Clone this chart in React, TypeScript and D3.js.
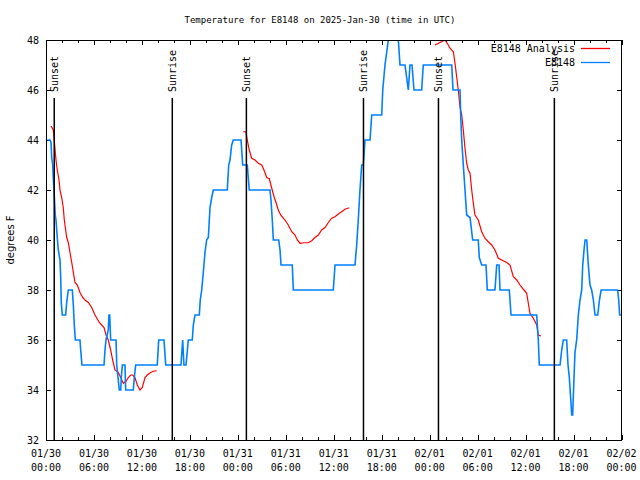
import React from "react";
import * as d3 from "d3";

// Hours after 2025-01-30 00:00 UTC
const obsHours = [0.16,0.5,0.63,0.71,0.84,0.91,1.0,1.16,1.25,1.41,1.54,1.75,1.84,1.91,2.04,2.46,2.59,2.79,3.29,3.42,3.54,3.67,4.25,4.34,4.5,7.26,7.38,7.51,7.79,7.88,7.97,8.09,8.76,8.85,9.01,9.17,9.35,9.42,9.55,9.88,9.97,10.92,11.05,11.22,13.92,14.1,14.76,14.98,16.89,17.1,17.26,17.52,17.8,18.3,18.43,18.64,19.18,19.3,19.48,19.68,19.89,20.1,20.31,20.52,20.73,20.93,22.68,22.86,23.02,23.23,23.43,24.4,24.61,25.18,25.43,28.02,28.15,28.31,28.44,29.11,29.28,29.4,30.81,30.94,35.94,36.16,38.66,38.87,39.07,39.28,39.5,39.7,39.91,40.54,40.75,42.0,42.13,42.41,42.83,44.08,44.29,44.91,45.12,45.33,45.54,45.79,46.04,47.0,47.2,50.76,50.92,51.8,51.88,52.01,52.21,52.42,52.63,53.05,53.38,54.08,54.21,54.51,55.05,55.21,56.17,56.39,56.68,56.8,57.96,58.18,61.39,61.59,61.72,64.31,64.52,64.72,65.14,65.31,65.47,65.68,65.77,65.89,66.06,66.18,66.39,66.6,66.81,67.02,67.15,67.31,67.44,67.65,67.85,68.06,68.27,68.48,68.69,69.03,69.24,69.45,71.52,71.65,71.77,71.94];
const obsTemps = [44,44,43.9,43.3,43,42.5,42,41,40.8,40.1,39.6,39.2,38.5,37.5,37,37,37.5,38,38,37.4,36.6,36,36,35.6,35,35,35.6,36,36.4,37,37,36,36,35,34.5,34,34,34.5,35,35,34,34,34.5,35,35,36,36,35,35,36,35,35,36,36,36.6,37,37,37.6,38,38.7,39.5,40,40.1,41.3,41.7,42,42,43,43.2,43.8,44,44,43,43,42,42,41.6,40.8,40,40,39.6,39,39,38,38,39,39,39.8,40.8,42,43,43,44,44,45,45,46,47,48,48,47,47,46.5,46,47,47,46,46,47,47,46,46,45,44,43,42,41,40.9,40,40,39.3,39,39,38,38,39,39,38,38,37,37,36,35,35,35.6,36,36,35,34.5,33.5,33,33,34.5,35.5,36,37,37.6,38,39,39.6,40,40,39,38.2,38,37.6,37,37,37.6,38,38,37.6,37,37];

const anaHours1 = [0.63,0.91,1.06,1.25,1.41,1.63,1.75,1.96,2.16,2.29,2.46,2.59,2.79,3.0,3.22,3.42,3.63,3.92,4.25,4.59,4.88,5.29,5.72,6.13,6.67,6.97,7.26,7.51,7.79,8.09,8.34,8.63,9.05,9.35,9.67,10.01,10.3,10.6,10.85,11.13,11.42,11.76,12.05,12.39,12.67,13.1,13.42,13.85];
const anaTemps1 = [44.56,44.4,43.9,43.2,42.8,42.4,42,41.7,41.3,40.8,40.4,40.1,39.9,39.5,39.1,38.7,38.3,38.2,37.9,37.7,37.6,37.5,37.3,37,36.7,36.6,36.5,36.2,36,35.6,35.2,34.8,34.7,34.5,34.27,34.35,34.5,34.6,34.6,34.5,34.2,34,34.1,34.5,34.6,34.7,34.75,34.77];
const anaHours2 = [24.68,25.02,25.18,25.43,25.73,26.15,26.56,26.99,27.27,27.61,27.94,28.24,28.53,28.78,29.06,29.36,29.9,30.31,30.74,31.15,31.44,31.78,32.28,32.82,33.24,33.65,34.07,34.49,34.91,35.32,35.74,36.16,36.57,36.99,37.41,37.82,37.95];
const anaTemps2 = [44.33,44.33,44,43.6,43.27,43.2,43.07,43.0,42.8,42.5,42.45,42.07,41.73,41.5,41.2,41,40.8,40.6,40.33,40.2,40,39.87,39.89,39.89,39.97,40.1,40.2,40.4,40.5,40.7,40.87,40.93,41.04,41.13,41.23,41.28,41.28];
const anaHours3 = [48.67,49.29,49.92,50.33,50.54,50.96,51.17,51.39,51.58,51.8,52.01,52.21,52.42,52.63,52.83,53.05,53.26,53.46,53.67,54.08,54.51,54.92,55.34,55.76,56.17,56.59,57.01,57.64,58.05,58.47,58.89,59.3,59.72,60.14,60.34,60.55,60.97,61.39,61.59,61.93];
const anaTemps3 = [47.8,47.9,48,47.8,47.67,47.53,47.07,46.5,46,45.3,45.0,44.4,43.67,43.07,42.8,42.67,42,41.47,41,40.8,40.33,40.07,39.93,39.8,39.6,39.27,39.2,39.1,39,38.53,38.4,38.2,38.03,37.87,37.47,37.07,36.87,36.6,36.2,36.16];

const sunHours = [1.03, 15.8, 25.07, 39.72, 49.1, 63.6];
const sunLabels = ["Sunset", "Sunrise", "Sunset", "Sunrise", "Sunset", "Sunrise"];
const yTicks = [32, 34, 36, 38, 40, 42, 44, 46, 48];
const titleText = "Temperature for E8148 on 2025-Jan-30 (time in UTC)";
const yLabel = "degrees F";
const seriesNames = ["E8148 Analysis", "E8148"];
const seriesColors = ["#ff0000", "#0080ff"];

const START = Date.UTC(2025, 0, 30);
const toDate = (h: number) => new Date(START + h * 3600e3);

export default function App() {
  const W = 640, H = 480;
  const L = 46, R = 621.5, T = 40, B = 440;
  const x = d3.scaleUtc().domain([toDate(0), toDate(72)]).range([L, R]);
  const y = d3.scaleLinear().domain([32, 48]).range([B, T]);
  const line = d3.line<[number, number]>().x(d => x(toDate(d[0]))).y(d => y(d[1]));
  const zip = (a: number[], b: number[]) => a.map((h, i) => [h, b[i]] as [number, number]);
  const anaPaths = [zip(anaHours1, anaTemps1), zip(anaHours2, anaTemps2), zip(anaHours3, anaTemps3)].map(s => line(s) as string);
  const obsPath = line(zip(obsHours, obsTemps)) as string;

  const minorTicks = x.ticks(d3.utcHour.every(2)!);
  const majorTicks = x.ticks(d3.utcHour.every(6)!);
  const fmtD = d3.utcFormat("%m/%d");
  const fmtT = d3.utcFormat("%H:%M");
  const mono = "'DejaVu Sans Mono', monospace";

  return (
    <svg width={W} height={H} style={{ position: "absolute", left: 0, top: 0, background: "#fff" }} fontFamily={mono} fontSize={10}>
      <defs>
        <clipPath id="plotclip"><rect x={L} y={T} width={R - L} height={B - T} /></clipPath>
      </defs>
      <rect x={0} y={0} width={W} height={H} fill="#fff" />
      <text x={320} y={23} textAnchor="middle" fontSize={9}>{titleText}</text>

      {/* ticks */}
      <g stroke="#000" strokeWidth={1} shapeRendering="crispEdges">
        {minorTicks.map((d, i) => {
          const isMajor = d.getUTCHours() % 6 === 0;
          const len = isMajor ? 5 : 3;
          const xx = Math.round(x(d)) + 0.5;
          return (
            <g key={"t" + i}>
              <line x1={xx} x2={xx} y1={B} y2={B - len} />
              <line x1={xx} x2={xx} y1={T} y2={T + len} />
            </g>
          );
        })}
        {yTicks.map((v, i) => {
          const yy = Math.round(y(v)) + 0.5;
          return (
            <g key={"y" + i}>
              <line x1={L} x2={L + 5} y1={yy} y2={yy} />
              <line x1={R} x2={R - 5} y1={yy} y2={yy} />
            </g>
          );
        })}
      </g>

      {majorTicks.map((d, i) => (
        <g key={"xl" + i}>
          <text x={x(d)} y={457} textAnchor="middle">{fmtD(d)}</text>
          <text x={x(d)} y={471} textAnchor="middle">{fmtT(d)}</text>
        </g>
      ))}
      {yTicks.map((v, i) => (
        <text key={"yl" + i} x={39} y={y(v) + 3.5} textAnchor="end">{v}</text>
      ))}
      <text transform={`translate(14,${(T + B) / 2}) rotate(-90)`} textAnchor="middle" fontFamily="'DejaVu Sans', sans-serif" fontSize={10}>{yLabel}</text>

      {/* data */}
      <g clipPath="url(#plotclip)" fill="none">
        {anaPaths.map((p, i) => (
          <path key={"a" + i} d={p} stroke={seriesColors[0]} strokeWidth={1.2} />
        ))}
        <path d={obsPath} stroke={seriesColors[1]} strokeWidth={1.6} />
      </g>

      {/* sunrise/sunset */}
      {sunHours.map((h, i) => {
        const xx = x(toDate(h));
        return (
          <g key={"s" + i}>
            <line x1={xx} x2={xx} y1={98} y2={B} stroke="#000" strokeWidth={1.5} />
            <text transform={`translate(${xx + 3.5},92) rotate(-90)`} textAnchor="start">{sunLabels[i]}</text>
          </g>
        );
      })}

      {/* legend */}
      {seriesNames.map((n, i) => (
        <g key={"lg" + i}>
          <text x={575} y={52 + i * 14} textAnchor="end">{n}</text>
          <line x1={581} x2={610} y1={48.5 + i * 14} y2={48.5 + i * 14} stroke={seriesColors[i]} strokeWidth={1.3} />
        </g>
      ))}

      <rect x={L + 0.5} y={T + 0.5} width={R - L - 0.5} height={B - T} fill="none" stroke="#000" strokeWidth={1} shapeRendering="crispEdges" />
    </svg>
  );
}
